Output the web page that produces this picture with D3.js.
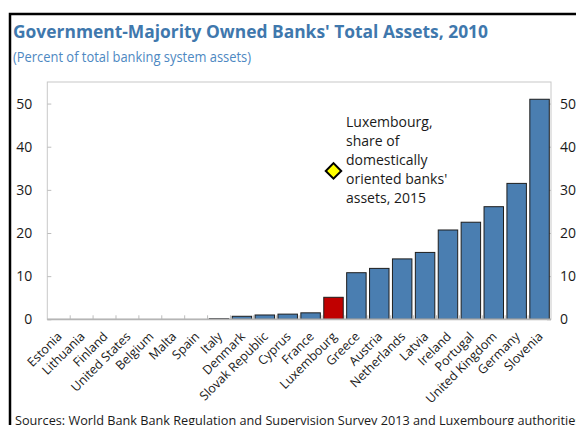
<!DOCTYPE html>
<html><head><meta charset="utf-8">
<script src="https://cdn.jsdelivr.net/npm/d3@7"></script>
<style>
body{margin:0;background:#fff;overflow:hidden;}
svg{display:block;font-family:"Open Sans","Noto Sans",sans-serif;}
</style>
</head><body>
<svg id="chart" width="576" height="425"></svg>
<script>
// ---- data ----
const categories = ["Estonia","Lithuania","Finland","United States","Belgium","Malta","Spain","Italy","Denmark","Slovak Republic","Cyprus","France","Luxembourg","Greece","Austria","Netherlands","Latvia","Ireland","Portugal","United Kingdom","Germany","Slovenia"];
const values = [0,0,0,0,0,0,0,0.15,0.7,1.0,1.2,1.5,5.1,10.8,11.8,14.0,15.5,20.7,22.5,26.1,31.5,51.0];
const highlightCategory = "Luxembourg";
const markerCategory = "Luxembourg";
const markerValue = 34.4;
const yTicks = [0,10,20,30,40,50];
const titleText = "Government-Majority Owned Banks' Total Assets, 2010";
const subtitleText = "(Percent of total banking system assets)";
const annotationLines = ["Luxembourg,","share of","domestically","oriented banks'","assets, 2015"];
const sourceText = "Sources: World Bank Bank Regulation and Supervision Survey 2013 and Luxembourg authorities.";

// ---- layout ----
const svg = d3.select("#chart");
const L = 47.3, R = 551, T = 82, B = 319.3;
const blue = "#4a7eb1", red = "#c00000", titleColor = "#3f78ad", subColor = "#4d88c2";

const x = d3.scaleBand().domain(categories).range([L, R]).paddingInner(0.15).paddingOuter(0.075);
const y = d3.scaleLinear().domain([0, 55]).range([B, T]);

// outer frame
svg.append("rect").attr("x",10).attr("y",14).attr("width",800).attr("height",800)
  .attr("fill","none").attr("stroke","#000").attr("stroke-width",2.5);

// title / subtitle
svg.append("text").attr("x",13).attr("y",37.5).attr("fill",titleColor)
  .attr("font-weight","bold").attr("font-size",17).text(titleText)
  .attr("textLength",475).attr("lengthAdjust","spacingAndGlyphs");
svg.append("text").attr("x",13).attr("y",62).attr("fill",subColor)
  .attr("font-size",14).text(subtitleText)
  .attr("textLength",238).attr("lengthAdjust","spacingAndGlyphs");

// plot frame
svg.append("rect").attr("x",L).attr("y",T).attr("width",R-L).attr("height",B-T)
  .attr("fill","none").attr("stroke","#c8c8c8").attr("stroke-width",1);

// left axis
const yl = svg.append("g").attr("transform",`translate(${L},0)`)
  .call(d3.axisLeft(y).tickValues(yTicks).tickSize(-4).tickPadding(15));
// right axis
const yr = svg.append("g").attr("transform",`translate(${R},0)`)
  .call(d3.axisRight(y).tickValues(yTicks).tickSize(-4).tickPadding(9));
[yl, yr].forEach(g => {
  g.select(".domain").remove();
  g.selectAll(".tick line").attr("stroke","#bdbdbd");
  g.selectAll(".tick text").attr("fill","#1a1a1a").attr("font-size",14).attr("font-family","\"Open Sans\",sans-serif");
});

// bars
svg.append("g").selectAll("rect").data(categories.map((c,i)=>({c, v: values[i]})).filter(d=>d.v>0))
  .join("rect")
  .attr("x", d => x(d.c)).attr("width", x.bandwidth())
  .attr("y", d => y(d.v)).attr("height", d => y(0) - y(d.v))
  .attr("fill", d => d.c === highlightCategory ? red : blue)
  .attr("stroke","#1e1e1e").attr("stroke-width",1);

// bottom axis with labels
const xa = svg.append("g").attr("transform",`translate(0,${B})`)
  .call(d3.axisBottom(x).tickSize(0));
xa.select(".domain").remove();
xa.selectAll(".tick text")
  .attr("x",0).attr("y",0).attr("dy",0)
  .attr("transform","translate(4,18) rotate(-45)")
  .attr("text-anchor","end").attr("font-size",12.5).attr("fill","#1a1a1a")
  .attr("font-family","\"Open Sans\",sans-serif");

// boundary ticks
const boundaries = categories.slice(1).map(c => x(c) - x.step()*x.paddingInner()/2);
svg.append("g").selectAll("line").data(boundaries).join("line")
  .attr("x1",d=>d).attr("x2",d=>d).attr("y1",B).attr("y2",B-4)
  .attr("stroke","#bdbdbd");
// baseline
svg.append("line").attr("x1",L).attr("x2",R).attr("y1",B).attr("y2",B)
  .attr("stroke","#b5b5b5").attr("stroke-width",1.8);

// marker diamond
const mx = x(markerCategory) + x.bandwidth()/2, my = y(markerValue);
svg.append("path").attr("d", d3.symbol().type(d3.symbolSquare).size(120)())
  .attr("transform",`translate(${mx},${my}) rotate(45)`)
  .attr("fill","#ffff00").attr("stroke","#000").attr("stroke-width",2);

// annotation
const ann = svg.append("text").attr("font-size",14).attr("fill","#1a1a1a");
annotationLines.forEach((t,i)=> ann.append("tspan").attr("x",346).attr("y",126.5 + i*19.1).text(t));

// source
svg.append("text").attr("x",15).attr("y",424.5).attr("font-size",12.7).attr("fill","#1a1a1a").text(sourceText);
</script>
</body></html>
